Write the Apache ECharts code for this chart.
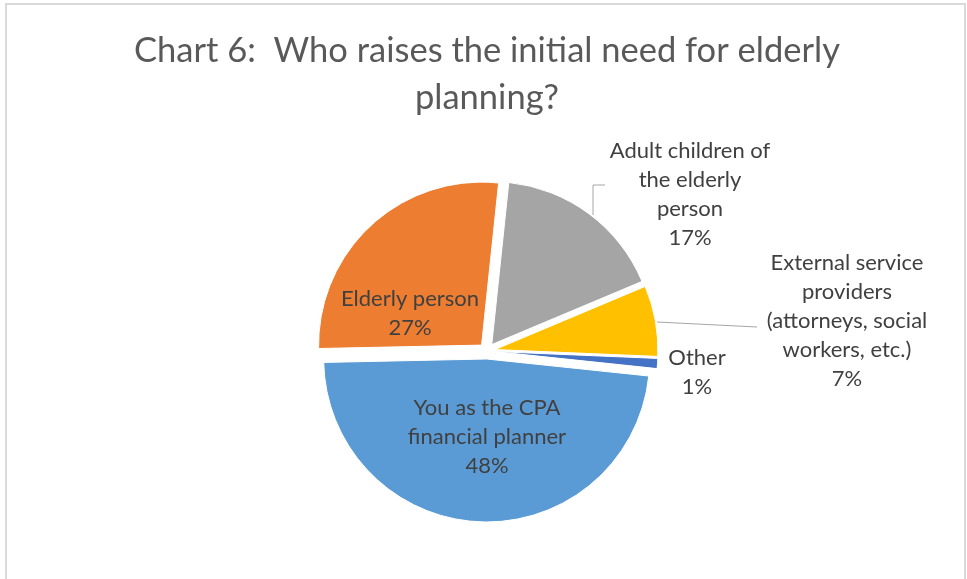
<!DOCTYPE html>
<html>
<head>
<meta charset="utf-8">
<script src="https://cdn.jsdelivr.net/npm/echarts@6/dist/echarts.min.js"></script>
<style>html,body{margin:0;padding:0;background:#fff}#c{width:967px;height:579px}</style>
</head>
<body>
<div id="c"></div>
<script>
const titleText = 'Chart 6:  Who raises the initial need for elderly\nplanning?';
const categories = ['Adult children of\nthe elderly\nperson', 'External service\nproviders\n(attorneys, social\nworkers, etc.)', 'Other', 'You as the CPA\nfinancial planner', 'Elderly person'];
const values = [17, 7, 1, 48, 27];
const colors = ['#A5A5A5', '#FFC000', '#4472C4', '#5B9BD5', '#ED7D31'];
// label anchor layout (x, y = center of label block)
const labelPos = [[690, 194], [847, 321], [697, 372], [487, 437], [410, 313]];
const leaderLines = [
  [[593, 215], [593, 185], [605, 185]],
  [[657, 322], [757, 327]]
];

const font = 'Lato';
const total = values.reduce((a, b) => a + b, 0);
const labelGraphics = categories.map((c, i) => ({
  type: 'text', x: labelPos[i][0], y: labelPos[i][1], z: 20, silent: true,
  style: {
    text: c + '\n' + Math.round(values[i] / total * 100) + '%',
    align: 'center', verticalAlign: 'middle',
    fontFamily: font, fontSize: 22, fill: '#404040', lineHeight: 29
  }
}));

const chart = echarts.init(document.getElementById('c'), null, {renderer: 'canvas'});
chart.setOption({
  animation: false,
  graphic: [
    {type: 'rect', shape: {x: 6, y: 4, width: 959, height: 600}, style: {fill: 'none', stroke: '#d9d9d9', lineWidth: 2}, silent: true, z: 0}
  ].concat(leaderLines.map(pts => ({type: 'polyline', shape: {points: pts}, style: {fill: 'none', stroke: '#a6a6a6', lineWidth: 1}, silent: true, z: 10})))
   .concat(labelGraphics),
  title: {
    text: titleText, left: 482, top: 22, textAlign: 'center',
    textStyle: {fontFamily: font, fontSize: 34.5, fontWeight: 'normal', color: '#595959', lineHeight: 47}
  },
  series: [{
    type: 'pie',
    center: [487, 351],
    radius: 163,
    startAngle: 84,
    clockwise: true,
    selectedMode: 'multiple',
    selectedOffset: 8,
    emphasis: {disabled: true},
    itemStyle: {borderColor: '#fff', borderWidth: 1},
    label: {show: false},
    labelLine: {show: false},
    data: categories.map((c, i) => ({
      name: c, value: values[i], selected: true,
      itemStyle: {color: colors[i]}
    }))
  }]
});
</script>
</body>
</html>
